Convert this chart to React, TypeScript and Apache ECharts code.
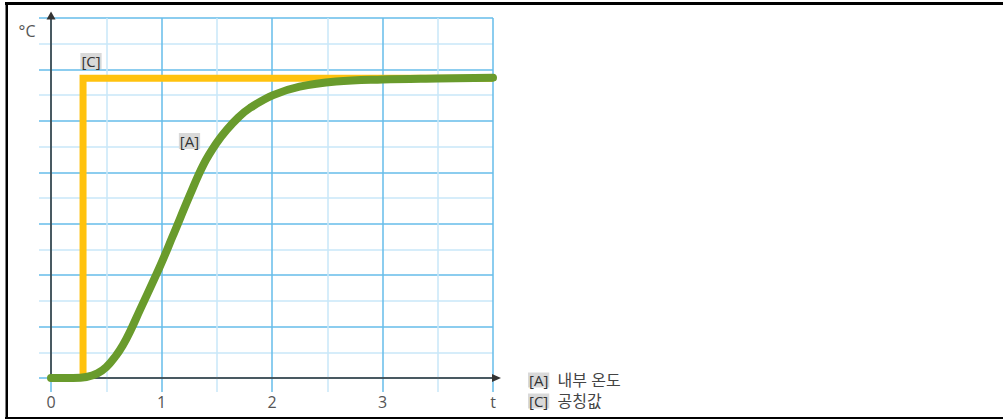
import React, { useEffect, useRef } from "react";
import * as echarts from "echarts";

// ---- data ----
const xTickValues = [0, 1, 2, 3, 4];
const xTickLabels = ["0", "1", "2", "3", "t"];
const yMax = 14;
const xMax = 4;

// [C] nominal value (setpoint step)
const nominalX = [0.29, 0.29, 4];
const nominalY = [0, 11.66, 11.66];

// [A] internal temperature
const tempX = [0, 0.2, 0.32, 0.42, 0.5, 0.59, 0.65, 0.72, 0.8, 0.98, 1.1, 1.26, 1.38, 1.5, 1.59, 1.7, 1.8, 2.01, 2.25, 2.58, 3.0, 3.5, 4.0];
const tempY = [0, 0, 0.04, 0.18, 0.42, 0.88, 1.27, 1.85, 2.6, 4.28, 5.5, 7.15, 8.3, 9.15, 9.65, 10.15, 10.5, 11.0, 11.33, 11.53, 11.61, 11.65, 11.68];

const seriesNames = ["내부 온도", "공칭값"];
const seriesTags = ["[A]", "[C]"];

const FONT = "'Open Sans', 'Noto Sans CJK KR', sans-serif";
const MAJOR = "#66bdea";
const MINOR = "#c9e7f8";

export default function App() {
  const ref = useRef<HTMLDivElement>(null);
  useEffect(() => {
    document.body.style.margin = "0";
    const chart = echarts.init(ref.current!, undefined, { renderer: "svg" });
    const hidden = { show: false };
    const option: any = {
      animation: false,
      backgroundColor: "#fff",
      textStyle: { fontFamily: FONT },
      grid: [
        { left: 39, top: 18, width: 454, height: 360 },
        { left: 51, top: 18, width: 442, height: 374 },
        { left: 51, top: 18, width: 442, height: 360 },
      ],
      xAxis: [
        { gridIndex: 0, type: "value", min: 0, max: 1, axisLine: hidden, axisTick: hidden, axisLabel: hidden, splitLine: hidden },
        {
          gridIndex: 1, type: "value", min: 0, max: xMax, interval: 1,
          axisLine: hidden, axisTick: hidden, axisLabel: hidden,
          splitLine: { show: true, lineStyle: { color: MAJOR, width: 1.5 } },
          minorTick: { show: false, splitNumber: 2 },
          minorSplitLine: { show: true, lineStyle: { color: MINOR, width: 1.5 } },
        },
        {
          gridIndex: 2, type: "value", min: 0, max: xMax, interval: 1,
          axisLine: { show: true, symbol: ["none", "triangle"], symbolSize: [8, 9], symbolOffset: [0, 3.5], lineStyle: { color: "#333", width: 1.5 } },
          axisTick: hidden,
          splitLine: hidden,
          axisLabel: {
            show: true, margin: 16, color: "#555", fontSize: 16, fontFamily: FONT,
            formatter: (v: number) => xTickLabels[xTickValues.indexOf(v)] ?? "",
          },
        },
      ],
      yAxis: [
        {
          gridIndex: 0, type: "value", min: 0, max: yMax, interval: 2,
          axisLine: hidden, axisTick: hidden, axisLabel: hidden,
          splitLine: { show: true, lineStyle: { color: MAJOR, width: 1.5 } },
          minorTick: { show: false, splitNumber: 2 },
          minorSplitLine: { show: true, lineStyle: { color: MINOR, width: 1.5 } },
        },
        { gridIndex: 1, type: "value", min: 0, max: 1, axisLine: hidden, axisTick: hidden, axisLabel: hidden, splitLine: hidden },
        {
          gridIndex: 2, type: "value", min: 0, max: yMax,
          axisLine: { show: true, symbol: ["none", "triangle"], symbolSize: [9, 8], symbolOffset: [0, 2.5], lineStyle: { color: "#333", width: 1.5 } },
          axisTick: hidden, axisLabel: hidden, splitLine: hidden,
        },
      ],
      legend: {
        orient: "vertical",
        left: 518,
        top: 366,
        icon: "none",
        itemWidth: 0,
        itemGap: 3,
        selectedMode: false,
        data: seriesNames,
        formatter: (name: string) => `{tag|${seriesTags[seriesNames.indexOf(name)]}}  ${name}`,
        textStyle: {
          color: "#444",
          fontSize: 16,
          lineHeight: 18,
          fontFamily: FONT,
          rich: {
            tag: { backgroundColor: "#d9d9d9", color: "#333", fontSize: 15, lineHeight: 18, fontFamily: FONT, padding: [0, 1, 0, 1] },
          },
        },
      },
      series: [
        {
          name: seriesNames[1],
          type: "line",
          xAxisIndex: 2,
          yAxisIndex: 2,
          data: nominalX.map((x, i) => [x, nominalY[i]]),
          showSymbol: false,
          symbol: "none",
          lineStyle: { color: "#ffc20e", width: 7, join: "miter", cap: "butt" },
          z: 3,
        },
        {
          name: seriesNames[0],
          type: "line",
          xAxisIndex: 2,
          yAxisIndex: 2,
          data: tempX.map((x, i) => [x, tempY[i]]),
          smooth: 0.4,
          showSymbol: false,
          symbol: "none",
          lineStyle: { color: "#699b2c", width: 8, cap: "round", join: "round" },
          z: 4,
        },
      ],
      graphic: [
        { type: "rect", shape: { x: 5, y: 2, width: 998, height: 3 }, style: { fill: "#000" }, z: 100 },
        { type: "rect", shape: { x: 5.5, y: 2, width: 2.5, height: 417 }, style: { fill: "#000" }, z: 100 },
        { type: "rect", shape: { x: 5, y: 417, width: 998, height: 2 }, style: { fill: "#000" }, z: 100 },
        { type: "text", x: 27, y: 31, z: 50, style: { text: "°C", fill: "#555", font: `16px ${FONT}`, align: "center", verticalAlign: "middle" } },
        { type: "text", x: 91, y: 61, z: 50, style: { text: "[C]", fill: "#333", font: `15px ${FONT}`, align: "center", verticalAlign: "middle", backgroundColor: "#d9d9d9", padding: [1, 1, 0, 1] } },
        { type: "text", x: 189.5, y: 141, z: 50, style: { text: "[A]", fill: "#333", font: `15px ${FONT}`, align: "center", verticalAlign: "middle", backgroundColor: "#d9d9d9", padding: [1, 1, 0, 1] } },
      ],
    };
    chart.setOption(option);
    return () => chart.dispose();
  }, []);
  return <div ref={ref} style={{ width: 1003, height: 419 }} />;
}
